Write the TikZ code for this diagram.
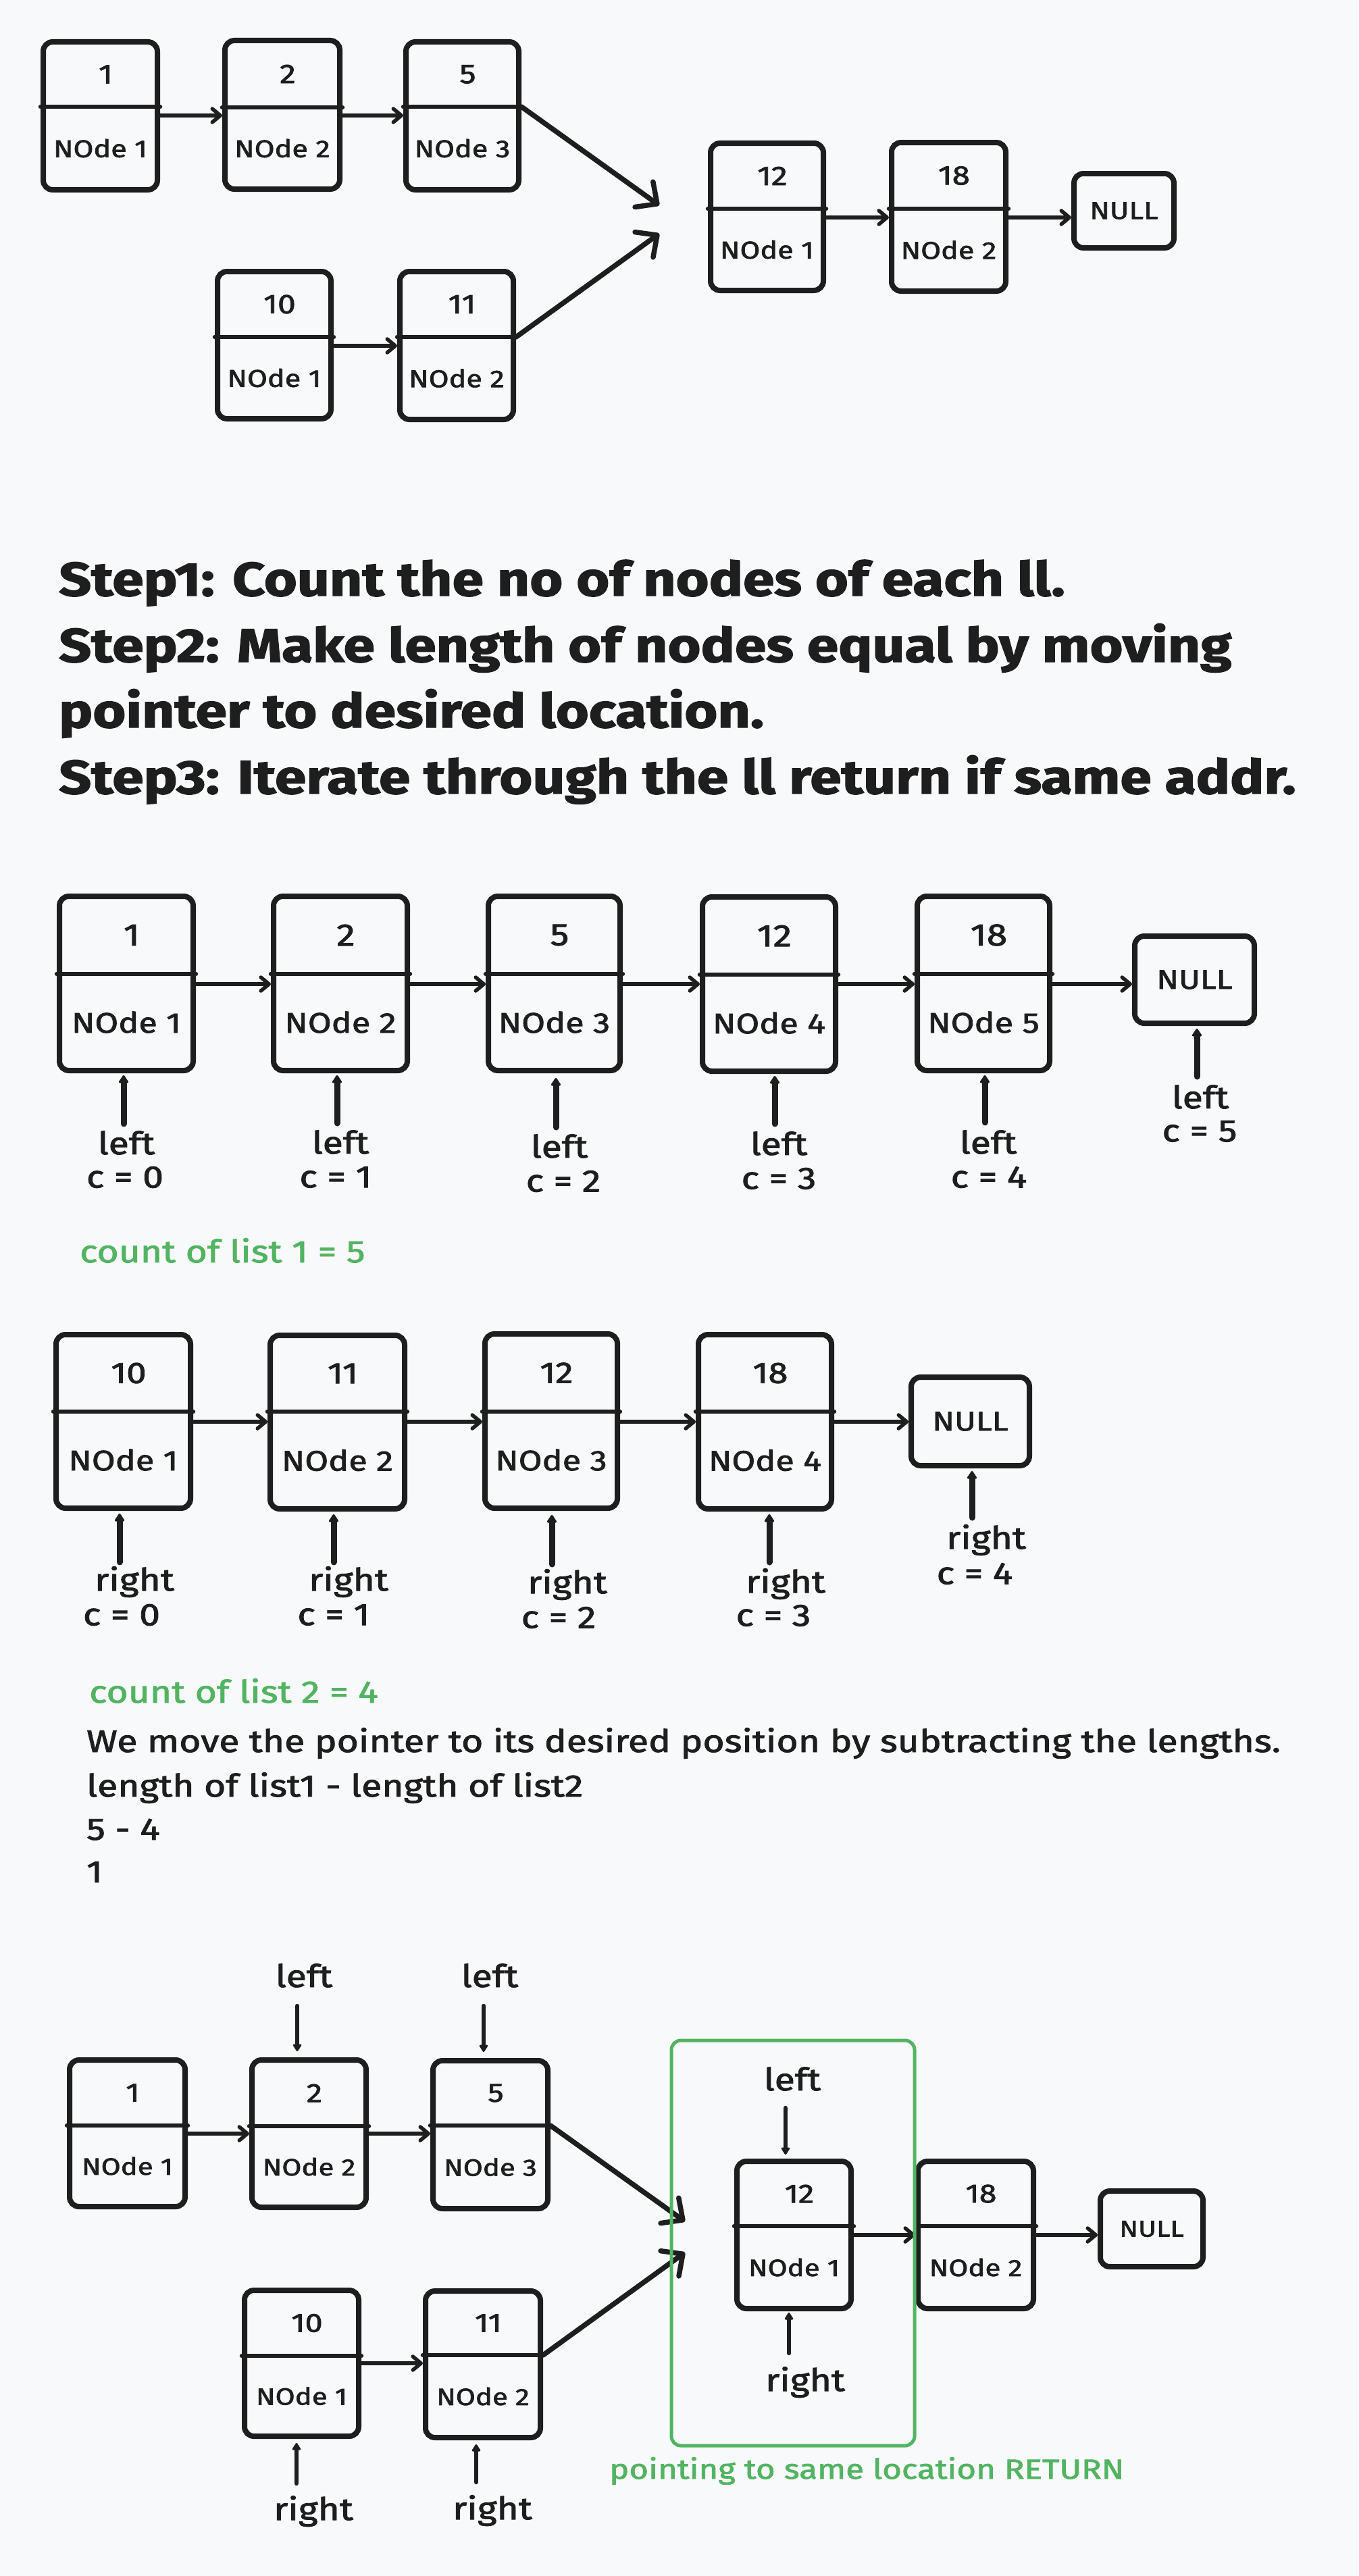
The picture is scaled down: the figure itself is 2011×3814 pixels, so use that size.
\documentclass[tikz,border=0pt]{standalone}
\usepackage{fontspec}
\setmainfont{Fira Sans}[FakeStretch=1.2, FakeBold=2]
\usetikzlibrary{arrows.meta}
\definecolor{ink}{HTML}{1E1E1E}
\definecolor{bgc}{HTML}{F8F9FA}
\definecolor{grn}{HTML}{52B462}
\newcommand\fs[1]{\fontsize{#1}{#1}\selectfont}
\newcommand{\llbox}[8]{%
  \node[llrect, minimum width={(#4-#2)*1pt}, minimum height={(#5-#3)*1pt}] (#1) at ({(#2+#4)/2},{(#3+#5)/2}) {};
  \draw[divline] (#1.west |- 0,#6) -- (#1.east |- 0,#6);
  \node[valtext] (#1v) at ({(#2+#4)/2+8},{(#3+#6)/2}) {#7};
  \node[labtext] (#1l) at ({(#2+#4)/2},{(#6+#5)/2}) {#8};
}
\newcommand{\nullbox}[5]{%
  \node[llrect, minimum width={(#4-#2)*1pt}, minimum height={(#5-#3)*1pt}] (#1) at ({(#2+#4)/2},{(#3+#5)/2}) {};
  \node[nulltext] (#1t) at (#1.center) {NULL};
}
\tikzset{
  llrect/.style={draw=ink, line width=8pt, rounded corners=14pt, inner sep=0pt},
  divline/.style={draw=ink, line width=6.5pt, line cap=round},
  valtext/.style={text=ink, inner sep=0pt, font=\fs{40}},
  labtext/.style={text=ink, inner sep=0pt, font=\fs{36}},
  nulltext/.style={text=ink, inner sep=0pt, font=\fs{36}},
  ptrtext/.style={text=ink, inner sep=0pt, font=\fs{46}},
  nxt/.style={draw=ink, line width=5.5pt, line cap=round, -{Straight Barb[length=12pt,width=20pt,round]}},
  diag/.style={draw=ink, line width=7.5pt, line cap=round, -{Straight Barb[length=24pt,width=46pt,round]}},
  ptr/.style={draw=ink, line width=9pt, line cap=round, -{Triangle[round,length=13pt,width=16pt]}},
  ptrthin/.style={draw=ink, line width=6.5pt, line cap=round, -{Triangle[round,length=12pt,width=14pt]}},
  steptext/.style={text=ink, inner sep=0pt, anchor=base west, font=\bfseries\fs{70}},
  paratext/.style={text=ink, inner sep=0pt, anchor=base west, font=\fs{46}},
  greentext/.style={text=grn, inner sep=0pt, anchor=base west, font=\fs{46}},
  gbox/.style={draw=grn, line width=5pt, rounded corners=14pt, inner sep=0pt},
}
\begin{document}
\begin{tikzpicture}[x=1pt, y=-1pt]
\fill[bgc] (0,0) rectangle (2011,3814);
\useasboundingbox (0,0) rectangle (2011,3814);

% ---------------- Section 1 ----------------
\llbox{a1}{64}{62}{233}{281}{158}{1}{NOde 1}
\llbox{a2}{333}{60}{503}{280}{159}{2}{NOde 2}
\llbox{a3}{601}{62}{768}{281}{158}{5}{NOde 3}
\llbox{b1}{322}{402}{490}{620}{499}{10}{NOde 1}
\llbox{b2}{592}{402}{760}{621}{499}{11}{NOde 2}
\llbox{c1}{1052}{212}{1219}{430}{309}{12}{NOde 1}
\llbox{c2}{1320}{211}{1489}{431}{309}{18}{NOde 2}
\nullbox{cn}{1590}{257}{1738}{367}
\draw[nxt] (a1.east |- 0,171) -- (a2.west |- 0,171);
\draw[nxt] (a2.east |- 0,171) -- (a3.west |- 0,171);
\draw[nxt] (b1.east |- 0,512) -- (b2.west |- 0,512);
\draw[nxt] (c1.east |- 0,322) -- (c2.west |- 0,322);
\draw[nxt] (c2.east |- 0,322) -- (cn.west |- 0,322);
\coordinate (m1) at (976,304);
\coordinate (m2) at (976,346);
\draw[diag] (a3.east |- 0,158) -- (m1);
\draw[diag] (b2.east |- 0,499) -- (m2);

% ---------------- Section 2 ----------------
\node[steptext] (s1) at (87,882) {Step1: Count the no of nodes of each ll.};
\node[steptext] (s2) at (87,980) {Step2: Make length of nodes equal by moving};
\node[steptext] (s3) at (87,1077) {pointer to desired location.};
\node[steptext] (s4) at (87,1175) {Step3: Iterate through the ll return if same addr.};

% ---------------- Section 3 ----------------
\begin{scope}[valtext/.append style={font=\fs{46}}, labtext/.append style={font=\fs{42}}, nulltext/.append style={font=\fs{40}}]
\llbox{d1}{88}{1327}{286}{1585}{1442}{1}{NOde 1}
\llbox{d2}{405}{1327}{603}{1585}{1442}{2}{NOde 2}
\llbox{d3}{723}{1327}{918}{1585}{1442}{5}{NOde 3}
\llbox{d4}{1040}{1328}{1237}{1586}{1443}{12}{NOde 4}
\llbox{d5}{1358}{1327}{1554}{1585}{1442}{18}{NOde 5}
\nullbox{dn}{1680}{1386}{1857}{1515}
\end{scope}
\draw[nxt] (d1.east |- 0,1457) -- (d2.west |- 0,1457);
\draw[nxt] (d2.east |- 0,1457) -- (d3.west |- 0,1457);
\draw[nxt] (d3.east |- 0,1457) -- (d4.west |- 0,1457);
\draw[nxt] (d4.east |- 0,1457) -- (d5.west |- 0,1457);
\draw[nxt] (d5.east |- 0,1457) -- (dn.west |- 0,1457);
\coordinate (pd1) at (183,1664);
\coordinate (pd2) at (499,1663);
\coordinate (pd3) at (823,1669);
\coordinate (pd4) at (1147,1664);
\coordinate (pd5) at (1458,1662);
\coordinate (pdn) at (1772,1594);
\draw[ptr, shorten >=3pt] (pd1) -- (pd1 |- d1.south);
\draw[ptr, shorten >=3pt] (pd2) -- (pd2 |- d2.south);
\draw[ptr, shorten >=7pt] (pd3) -- (pd3 |- d3.south);
\draw[ptr, shorten >=3pt] (pd4) -- (pd4 |- d4.south);
\draw[ptr, shorten >=3pt] (pd5) -- (pd5 |- d5.south);
\draw[ptr, shorten >=4pt] (pdn) -- (pdn |- dn.south);
\node[ptrtext] (ld1) at (187,1692) {left};
\node[ptrtext] (cd1) at (185,1743) {c = 0};
\node[ptrtext] (ld2) at (504,1691) {left};
\node[ptrtext] (cd2) at (497,1743) {c = 1};
\node[ptrtext] (ld3) at (828,1697) {left};
\node[ptrtext] (cd3) at (834,1749) {c = 2};
\node[ptrtext] (ld4) at (1153,1693) {left};
\node[ptrtext] (cd4) at (1153,1745) {c = 3};
\node[ptrtext] (ld5) at (1463,1691) {left};
\node[ptrtext] (cd5) at (1464,1743) {c = 4};
\node[ptrtext] (ldn) at (1777,1624) {left};
\node[ptrtext] (cdn) at (1776,1675) {c = 5};
\node[greentext] (cnt1) at (118,1869) {count of list 1 = 5};

% ---------------- Section 4 ----------------
\begin{scope}[valtext/.append style={font=\fs{44}}, labtext/.append style={font=\fs{42}}, nulltext/.append style={font=\fs{40}}]
\llbox{e1}{83}{1976}{282}{2233}{2090}{10}{NOde 1}
\llbox{e2}{400}{1977}{599}{2234}{2090}{11}{NOde 2}
\llbox{e3}{718}{1975}{914}{2233}{2090}{12}{NOde 3}
\llbox{e4}{1034}{1976}{1231}{2234}{2090}{18}{NOde 4}
\nullbox{en}{1349}{2039}{1524}{2170}
\end{scope}
\draw[nxt] (e1.east |- 0,2105) -- (e2.west |- 0,2105);
\draw[nxt] (e2.east |- 0,2105) -- (e3.west |- 0,2105);
\draw[nxt] (e3.east |- 0,2105) -- (e4.west |- 0,2105);
\draw[nxt] (e4.east |- 0,2105) -- (en.west |- 0,2105);
\coordinate (pe1) at (177,2313);
\coordinate (pe2) at (494,2313);
\coordinate (pe3) at (817,2316);
\coordinate (pe4) at (1139,2313);
\coordinate (pen) at (1439,2247);
\draw[ptr, shorten >=4pt] (pe1) -- (pe1 |- e1.south);
\draw[ptr, shorten >=4pt] (pe2) -- (pe2 |- e2.south);
\draw[ptr, shorten >=6pt] (pe3) -- (pe3 |- e3.south);
\draw[ptr, shorten >=4pt] (pe4) -- (pe4 |- e4.south);
\draw[ptr, shorten >=4pt] (pen) -- (pen |- en.south);
\node[ptrtext] (le1) at (199,2342) {right};
\node[ptrtext] (ce1) at (180,2391) {c = 0};
\node[ptrtext] (le2) at (516,2342) {right};
\node[ptrtext] (ce2) at (494,2391) {c = 1};
\node[ptrtext] (le3) at (840,2346) {right};
\node[ptrtext] (ce3) at (827,2395) {c = 2};
\node[ptrtext] (le4) at (1163,2345) {right};
\node[ptrtext] (ce4) at (1145,2392) {c = 3};
\node[ptrtext] (len) at (1460,2280) {right};
\node[ptrtext] (cen) at (1443,2330) {c = 4};
\node[greentext] (cnt2) at (132,2521) {count of list 2 = 4};
\node[paratext] (p1) at (128,2594) {We move the pointer to its desired position by subtracting the lengths.};
\node[paratext] (p2) at (128,2660) {length of list1 - length of list2};
\node[paratext] (p3) at (128,2724) {5 - 4};
\node[paratext] (p4) at (128,2787) {1};

% ---------------- Section 5 ----------------
\begin{scope}[valtext/.append style={font=\fs{39}}, labtext/.append style={font=\fs{35}}, nulltext/.append style={font=\fs{34}}]
\llbox{f1}{103}{3050}{274}{3267}{3147}{1}{NOde 1}
\llbox{f2}{373}{3050}{542}{3268}{3148}{2}{NOde 2}
\llbox{f3}{641}{3051}{811}{3270}{3147}{5}{NOde 3}
\llbox{g1}{362}{3391}{531}{3607}{3488}{10}{NOde 1}
\llbox{g2}{630}{3392}{800}{3609}{3487}{11}{NOde 2}
\llbox{h1}{1091}{3200}{1260}{3418}{3296}{12}{NOde 1}
\llbox{h2}{1359}{3200}{1530}{3418}{3296}{18}{NOde 2}
\nullbox{hn}{1629}{3244}{1781}{3356}
\end{scope}
\draw[nxt] (f1.east |- 0,3159) -- (f2.west |- 0,3159);
\draw[nxt] (f2.east |- 0,3159) -- (f3.west |- 0,3159);
\draw[nxt] (g1.east |- 0,3499) -- (g2.west |- 0,3499);
\draw[nxt] (h1.east |- 0,3309) -- (h2.west |- 0,3309);
\draw[nxt] (h2.east |- 0,3309) -- (hn.west |- 0,3309);
\coordinate (m3) at (1014,3289);
\coordinate (m4) at (1014,3335);
\draw[diag] (f3.east |- 0,3147) -- (m3);
\draw[diag] (g2.east |- 0,3487) -- (m4);
% pointers
\coordinate (pf2) at (440,2970);
\coordinate (pf3) at (716,2970);
\coordinate (pg1) at (439,3677);
\coordinate (pg2) at (705,3675);
\coordinate (ph1a) at (1163,3121);
\coordinate (ph1b) at (1168,3484);
\draw[ptrthin, shorten >=9pt] (pf2) -- (pf2 |- f2.north);
\draw[ptrthin, shorten >=9pt] (pf3) -- (pf3 |- f3.north);
\draw[ptrthin, shorten >=6pt] (pg1) -- (pg1 |- g1.south);
\draw[ptrthin, shorten >=6pt] (pg2) -- (pg2 |- g2.south);
\draw[ptrthin, shorten >=6pt] (ph1a) -- (ph1a |- h1.north);
\draw[ptrthin, shorten >=2pt] (ph1b) -- (ph1b |- h1.south);
\node[ptrtext] (lf2) at (450,2925) {left};
\node[ptrtext] (lf3) at (725,2925) {left};
\node[ptrtext] (rg1) at (464,3718) {right};
\node[ptrtext] (rg2) at (729,3717) {right};
\node[ptrtext] (lh1) at (1173,3078) {left};
\node[ptrtext] (rh1) at (1192,3527) {right};
\node[gbox, minimum width=360pt, minimum height=600pt] (same) at (1174,3321) {};
\node[greentext, font=\fs{41}] (ret) at (902,3670) {pointing to same location RETURN};
\end{tikzpicture}
\end{document}
